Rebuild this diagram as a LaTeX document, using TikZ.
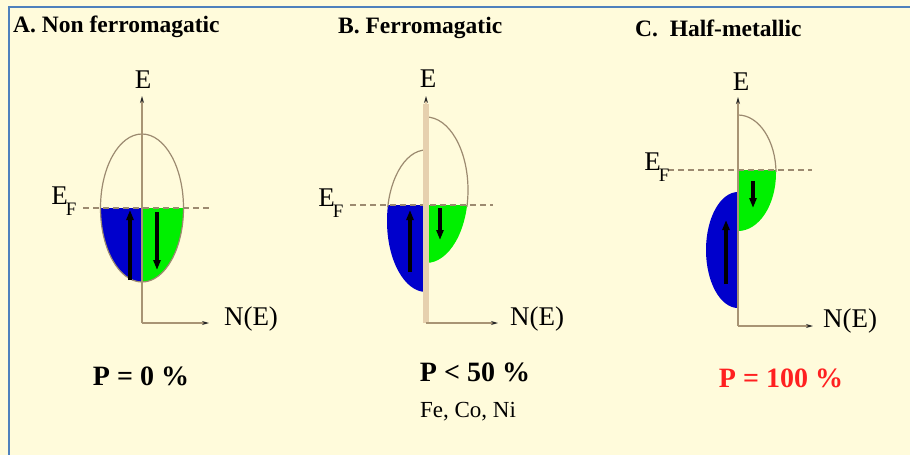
\documentclass[tikz,border=0pt]{standalone}
\usepackage{fontspec}
\setmainfont{Liberation Serif}
\usetikzlibrary{arrows.meta}
\definecolor{bg}{HTML}{FFFBDB}
\definecolor{frame}{HTML}{4F81BD}
\definecolor{axis}{HTML}{A89474}
\definecolor{axislight}{HTML}{E6D0AE}
\definecolor{curve}{HTML}{9C8A70}
\definecolor{upblue}{HTML}{0000CC}
\definecolor{dngreen}{HTML}{00F000}
\definecolor{pred}{HTML}{FF2020}
\tikzset{
  axisline/.style={draw=axis, line width=1.6pt},
  axistip/.style={-{Stealth[length=7pt,width=4pt,fill=black!85,color=black!85]}},
  curveline/.style={draw=curve, line width=1.2pt},
  fermi/.style={draw=curve, line width=1.3pt, dash pattern=on 6pt off 4pt},
  spinarrow/.style={draw=black, line width=4pt, -{Triangle[length=10pt,width=7pt]}},
  title/.style={font=\fontsize{23.5}{24}\selectfont\bfseries, anchor=west, inner sep=0pt},
  axlabel/.style={font=\fontsize{27}{27}\selectfont, inner sep=0pt},
  plabel/.style={font=\fontsize{28}{28}\selectfont\bfseries, inner sep=0pt},
  small/.style={font=\fontsize{23}{23}\selectfont, inner sep=0pt}
}
\newcommand{\EFlab}{E\kern-2pt\raisebox{-11pt}{\fontsize{19}{19}\selectfont F}}
\begin{document}
\begin{tikzpicture}[x=1pt,y=-1pt]
\fill[bg] (0,0) rectangle (910,455);
\useasboundingbox (0,0) rectangle (910,455);
\coordinate (fA) at (8.5,455);
\coordinate (fB) at (8.5,6.5);
\coordinate (fC) at (910,6.5);
\draw[frame, line width=2pt] (fA) -- (fB) -- (fC);

% ================= Panel A =================
\node[title] (tA) at (13,27) {A. Non ferromagatic};
\coordinate (oA) at (142,323);
\coordinate (eA) at (142,96);
\coordinate (nA) at (209,323);
\begin{scope}
  \clip (95,208) rectangle (142,300);
  \fill[upblue] (142,208) ellipse [x radius=41.5, y radius=74];
\end{scope}
\begin{scope}
  \clip (142,208) rectangle (190,300);
  \fill[dngreen] (142,208) ellipse [x radius=41.5, y radius=74];
\end{scope}
\draw[curveline] (142,208) ellipse [x radius=41.5, y radius=74];
\coordinate (fA1) at (83,208);
\coordinate (fA2) at (210,208);
\draw[fermi] (fA1) -- (fA2);
\draw[axisline, axistip] (oA) -- (eA);
\draw[axisline, axistip] (oA) -- (nA);
\coordinate (uA1) at (130,280);
\coordinate (uA2) at (130,210);
\coordinate (dA1) at (157,212);
\coordinate (dA2) at (157,270);
\draw[spinarrow] (uA1) -- (uA2);
\draw[spinarrow] (dA1) -- (dA2);
\node[axlabel] (EA) at (143,80) {E};
\node[axlabel] (NA) at (251,319) {N(E)};
\node[axlabel] (FA) at (64,201) {\EFlab};
\node[plabel] (PA) at (141,376) {P = 0 \%};

% ================= Panel B =================
\node[title] (tB) at (338,28) {B. Ferromagatic};
\coordinate (oB) at (426,323);
\coordinate (eB) at (426,96);
\coordinate (nB) at (498,323);
\begin{scope}
  \clip (380,205) rectangle (426,300);
  \fill[upblue] (426,221) ellipse [x radius=39, y radius=71];
\end{scope}
\begin{scope}
  \clip (426,205) rectangle (475,300);
  \fill[dngreen] (426,190) ellipse [x radius=42, y radius=73];
\end{scope}
\begin{scope}
  \clip (380,100) rectangle (426,206);
  \draw[curveline] (426,221) ellipse [x radius=39, y radius=71];
\end{scope}
\begin{scope}
  \clip (426,100) rectangle (475,206);
  \draw[curveline] (426,190) ellipse [x radius=42, y radius=73];
\end{scope}
\coordinate (fB1) at (350,205);
\coordinate (fB2) at (493,205);
\draw[fermi] (fB1) -- (fB2);
\coordinate (eB0) at (426,323);
\coordinate (eBt) at (426,104);
\draw[draw=axislight, line width=6pt] (eB0) -- (eBt);
\draw[axisline, axistip, draw=axislight] (oB) -- (eB);
\draw[axisline, axistip] (oB) -- (nB);
\coordinate (uB1) at (410,272);
\coordinate (uB2) at (410,210);
\coordinate (dB1) at (440,208);
\coordinate (dB2) at (440,240);
\draw[spinarrow] (uB1) -- (uB2);
\draw[spinarrow] (dB1) -- (dB2);
\node[axlabel] (EB) at (428,79) {E};
\node[axlabel] (NB) at (537,319) {N(E)};
\node[axlabel] (FB) at (331,203) {\EFlab};
\node[plabel] (PB) at (475,372) {P < 50 \%};
\node[small] (MB) at (468,412) {Fe, Co, Ni};

% ================= Panel C =================
\node[title] (tC) at (635,28) {C.\ \ Half-metallic};
\coordinate (oC) at (738,326);
\coordinate (eC) at (738,97);
\coordinate (nC) at (813,326);
\begin{scope}
  \clip (738,170) rectangle (785,260);
  \fill[dngreen] (738,173) ellipse [x radius=38, y radius=58];
\end{scope}
\begin{scope}
  \clip (700,180) rectangle (738,320);
  \fill[upblue] (738,250) ellipse [x radius=32, y radius=58];
\end{scope}
\begin{scope}
  \clip (738,100) rectangle (785,171);
  \draw[curveline] (738,173) ellipse [x radius=38, y radius=58];
\end{scope}
\coordinate (fC1) at (668,170);
\coordinate (fC2) at (812,170);
\draw[fermi] (fC1) -- (fC2);
\draw[axisline, axistip] (oC) -- (eC);
\draw[axisline, axistip] (oC) -- (nC);
\coordinate (uC1) at (726,284);
\coordinate (uC2) at (726,220);
\coordinate (dC1) at (753,181);
\coordinate (dC2) at (753,208);
\draw[spinarrow] (uC1) -- (uC2);
\draw[spinarrow] (dC1) -- (dC2);
\node[axlabel] (EC) at (741,82) {E};
\node[axlabel] (NC) at (850,321) {N(E)};
\node[axlabel] (FC) at (657,167) {\EFlab};
\node[plabel, text=pred] (PC) at (781,378) {P = 100 \%};
\end{tikzpicture}
\end{document}
